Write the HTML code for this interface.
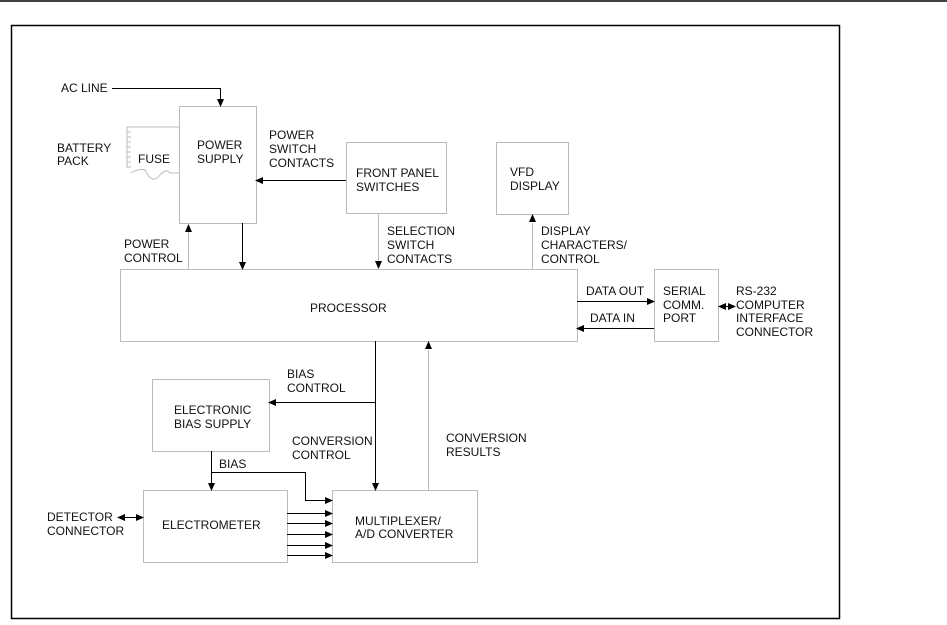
<!DOCTYPE html>
<html><head><style>
body{margin:0;background:#fff;width:947px;height:620px;overflow:hidden}
svg text{font-family:"Liberation Sans",Arial,sans-serif;font-size:12px;fill:#111}
</style></head><body>
<svg width="947" height="620" viewBox="0 0 947 620">
<defs>
<marker id="a" markerWidth="8" markerHeight="8" refX="7" refY="4" orient="auto" markerUnits="userSpaceOnUse"><path d="M0,0.5 L8,4 L0,7.5Z" fill="#000"/></marker>
<marker id="b" markerWidth="8" markerHeight="8" refX="1" refY="4" orient="auto" markerUnits="userSpaceOnUse"><path d="M8,0.5 L0,4 L8,7.5Z" fill="#000"/></marker>
</defs>
<line x1="0" y1="1" x2="947" y2="1" stroke="#000" stroke-width="1.5"/>
<rect x="11.5" y="25.5" width="828" height="593" fill="none" stroke="#000" stroke-width="1.5"/>
<g fill="none" stroke="#bbb" stroke-width="1">
<rect x="179.5" y="106.5" width="77" height="117"/>
<rect x="346.5" y="142.5" width="100" height="71"/>
<rect x="496.5" y="142.5" width="72" height="72"/>
<rect x="120.5" y="269.5" width="457" height="72"/>
<rect x="654.5" y="269.5" width="64" height="72"/>
<rect x="152.5" y="379.5" width="117" height="72"/>
<rect x="143.5" y="490.5" width="144" height="72"/>
<rect x="332.5" y="490.5" width="145" height="72"/>
<path d="M127,127 H179 M127,127 V168 M131,173 Q140,168 145,170 Q152,185 160,175 Q166,168 170,173 H179"/>
<line x1="188.5" y1="269" x2="188.5" y2="232"/>
<line x1="378.5" y1="213" x2="378.5" y2="262"/>
<line x1="532.5" y1="269" x2="532.5" y2="223"/>
<line x1="428.5" y1="490" x2="428.5" y2="350"/>
</g>
<g stroke="#bbb">
<path d="M127,132h4M127,137h4M127,142h4M127,147h4M127,152h4M127,157h4M127,162h4M127,167h4"/>
</g>
<g fill="none" stroke="#000" stroke-width="1">
<path d="M112,88.5 H220.5 V106" marker-end="url(#a)"/>
<line x1="346" y1="180.5" x2="256" y2="180.5" marker-end="url(#a)"/>
<line x1="242.5" y1="223" x2="242.5" y2="269" marker-end="url(#a)"/>
<line x1="577" y1="301.5" x2="654" y2="301.5" marker-end="url(#a)"/>
<line x1="654" y1="328.5" x2="577" y2="328.5" marker-end="url(#a)"/>
<line x1="719" y1="306.5" x2="735" y2="306.5" marker-start="url(#b)" marker-end="url(#a)"/>
<line x1="375.5" y1="341" x2="375.5" y2="490" marker-end="url(#a)"/>
<line x1="375" y1="402.5" x2="269" y2="402.5" marker-end="url(#a)"/>
<line x1="211.5" y1="451" x2="211.5" y2="490" marker-end="url(#a)"/>
<path d="M211,472.5 H305.5 V500.5 H332" marker-end="url(#a)"/>
<line x1="287" y1="513.5" x2="332" y2="513.5" marker-end="url(#a)"/>
<line x1="287" y1="523.5" x2="332" y2="523.5" marker-end="url(#a)"/>
<line x1="287" y1="534.5" x2="332" y2="534.5" marker-end="url(#a)"/>
<line x1="287" y1="545.5" x2="332" y2="545.5" marker-end="url(#a)"/>
<line x1="287" y1="555.5" x2="332" y2="555.5" marker-end="url(#a)"/>
<line x1="118" y1="517.5" x2="143" y2="517.5" marker-start="url(#b)" marker-end="url(#a)"/>
</g>
<path d="M188.5,224 L185,232 H192Z" fill="#000"/>
<path d="M378.5,269 L375,261 H382Z" fill="#000"/>
<path d="M532.5,214 L529,222 H536Z" fill="#000"/>
<path d="M428.5,341 L425,349 H432Z" fill="#000"/>
<text x="61" y="92">AC LINE</text>
<text x="57" y="152">BATTERY</text><text x="57" y="165">PACK</text>
<text x="138" y="163">FUSE</text>
<text x="197" y="149">POWER</text><text x="197" y="163">SUPPLY</text>
<text x="269" y="139">POWER</text><text x="269" y="153">SWITCH</text><text x="269" y="167">CONTACTS</text>
<text x="356" y="177">FRONT PANEL</text><text x="356" y="191">SWITCHES</text>
<text x="510" y="176">VFD</text><text x="510" y="190">DISPLAY</text>
<text x="124" y="248">POWER</text><text x="124" y="262">CONTROL</text>
<text x="387" y="235">SELECTION</text><text x="387" y="249">SWITCH</text><text x="387" y="263">CONTACTS</text>
<text x="541" y="235">DISPLAY</text><text x="541" y="249">CHARACTERS/</text><text x="541" y="263">CONTROL</text>
<text x="310" y="312">PROCESSOR</text>
<text x="586" y="295">DATA OUT</text>
<text x="590" y="322">DATA IN</text>
<text x="663" y="295">SERIAL</text><text x="663" y="309">COMM.</text><text x="663" y="322">PORT</text>
<text x="736" y="295">RS-232</text><text x="736" y="309">COMPUTER</text><text x="736" y="322">INTERFACE</text><text x="736" y="336">CONNECTOR</text>
<text x="287" y="378">BIAS</text><text x="287" y="392">CONTROL</text>
<text x="174" y="414">ELECTRONIC</text><text x="174" y="428">BIAS SUPPLY</text>
<text x="292" y="445">CONVERSION</text><text x="292" y="459">CONTROL</text>
<text x="446" y="442">CONVERSION</text><text x="446" y="456">RESULTS</text>
<text x="219" y="468">BIAS</text>
<text x="47" y="521">DETECTOR</text><text x="47" y="535">CONNECTOR</text>
<text x="162" y="529">ELECTROMETER</text>
<text x="355" y="525">MULTIPLEXER/</text><text x="355" y="538">A/D CONVERTER</text>
</svg>
</body></html>
